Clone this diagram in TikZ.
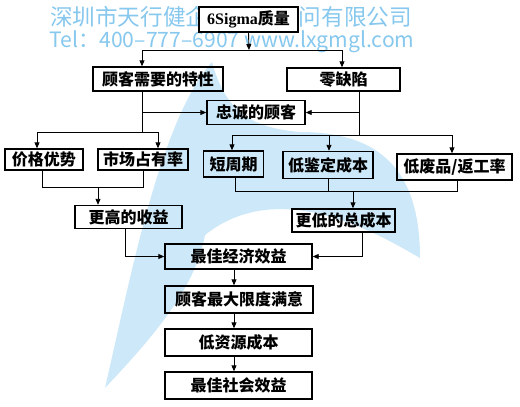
\documentclass[tikz,border=0pt]{standalone}
\usepackage{fontspec}
\usepackage{graphicx}
\setmainfont{Liberation Serif}
\newfontfamily\cjk{Noto Sans CJK SC}
\usetikzlibrary{arrows.meta}
\definecolor{wmblue}{RGB}{135,200,238}
\definecolor{logoblue}{RGB}{205,233,249}
\begin{document}
\begin{tikzpicture}[x=1pt,y=-1pt,
  box/.style={draw=black, line width=1.4pt, inner sep=0pt, font=\cjk\bfseries\fontsize{16}{16}\selectfont},
  ln/.style={line width=0.9pt},
  arr/.style={line width=0.9pt,-{Triangle[length=6pt,width=5pt]}}]
\useasboundingbox (0,0) rectangle (520,407);
\fill[white] (0,0) rectangle (520,407);
% watermark logo
\fill[logoblue] (212,62) .. controls (225,110) and (250,128) .. (300,132)
  .. controls (380,132) and (420,170) .. (420,258)
  .. controls (380,235) and (280,175) .. (205,235)
  .. controls (195,290) and (150,340) .. (105,388)
  .. controls (130,280) and (160,120) .. (212,62) -- cycle;
% watermark text
\node[text=wmblue, inner sep=0pt] (wm1) at (231,17) {\resizebox{362pt}{!}{\cjk 深圳市天行健企业管理顾问有限公司}};
\node[text=wmblue, inner sep=0pt] (wm2) at (232,42) {\resizebox{365pt}{!}{\cjk Tel：400–777–6907 www.lxgmgl.com}};
% boxes
\node[box, fill=white, minimum width=99pt, minimum height=25pt] (sig) at (248.5,19.5) {{\rmfamily\bfseries 6Sigma}质量};
\node[box, minimum width=130pt, minimum height=24pt] (cn) at (158,79) {顾客需要的特性};
\node[box, minimum width=113pt, minimum height=23pt] (zd) at (343.5,79.5) {零缺陷};
\node[box, minimum width=98pt, minimum height=24pt] (zc) at (256,112.5) {忠诚的顾客};
\node[box, minimum width=78pt, minimum height=21pt] (jg) at (44,159.5) {价格优势};
\node[box, minimum width=90pt, minimum height=21pt] (sc) at (143,159.5) {市场占有率};
\node[box, minimum width=107pt, minimum height=23pt] (gs) at (128.5,217) {更高的收益};
\node[box, minimum width=60pt, minimum height=26pt] (dz) at (233.5,164) {短周期};
\node[box, minimum width=90pt, minimum height=27pt] (jd) at (328,165) {低鉴定成本};
\node[box, minimum width=115pt, minimum height=26pt] (fp) at (454.5,167) {低废品/返工率};
\node[box, minimum width=103pt, minimum height=23pt] (zcb) at (343.5,220.5) {更低的总成本};
\node[box, minimum width=147pt, minimum height=25pt] (jj) at (238.5,256.5) {最佳经济效益};
\node[box, minimum width=148pt, minimum height=27pt] (my) at (239,299.5) {顾客最大限度满意};
\node[box, minimum width=147pt, minimum height=27pt] (zy) at (238.5,342.5) {低资源成本};
\node[box, minimum width=147pt, minimum height=27pt] (sh) at (238.5,385.5) {最佳社会效益};
% connectors top
\coordinate (a) at (249,50);
\coordinate (aL) at (142,50);
\coordinate (aR) at (342,50);
\draw[arr] (sig.south) -- (a);
\draw[ln] (aL) -- (aR);
\draw[arr] (aL) -- (aL |- cn.north);
\draw[arr] (aR) -- (aR |- zd.north);
% left branch
\coordinate (b) at (142,132);
\coordinate (bL) at (37,132);
\coordinate (bR) at (158,132);
\draw[ln] (b |- cn.south) -- (b);
\draw[ln] (bL) -- (bR);
\draw[arr] (b |- zc.west) -- (zc.west);
\draw[arr] (bL) -- (bL |- jg.north);
\draw[arr] (bR) -- (bR |- sc.north);
% right branch
\coordinate (c) at (359,135);
\coordinate (cL) at (232,135);
\coordinate (cM) at (329,135);
\coordinate (cR) at (452,135);
\draw[ln] (c |- zd.south) -- (c);
\draw[arr] (c |- zc.east) -- (zc.east);
\draw[ln] (cL) -- (cR);
\draw[arr] (cL) -- (cL |- dz.north);
\draw[arr] (cM) -- (cM |- jd.north);
\draw[arr] (cR) -- (cR |- fp.north);
% merge left
\coordinate (d) at (98,187);
\coordinate (dL) at (42,187);
\coordinate (dR) at (143,187);
\draw[ln] (dL |- jg.south) -- (dL) -- (dR) -- (dR |- sc.south);
\draw[arr] (d) -- (d |- gs.north);
% merge right
\coordinate (e) at (353,191);
\coordinate (eL) at (235,191);
\coordinate (eM) at (328,191);
\coordinate (eR) at (457,191);
\draw[ln] (eL |- dz.south) -- (eL) -- (eR) -- (eR |- fp.south);
\draw[ln] (eM |- jd.south) -- (eM);
\draw[arr] (e) -- (e |- zcb.north);
% into economic benefit
\coordinate (f) at (125,0);
\coordinate (g) at (362,0);
\draw[arr] (f |- gs.south) |- (jj.west);
\draw[arr] (g |- zcb.south) |- (jj.east);
% vertical chain
\coordinate (h) at (234,0);
\draw[arr] (h |- jj.south) -- (h |- my.north);
\draw[arr] (h |- my.south) -- (h |- zy.north);
\draw[arr] (h |- zy.south) -- (h |- sh.north);
\end{tikzpicture}
\end{document}
